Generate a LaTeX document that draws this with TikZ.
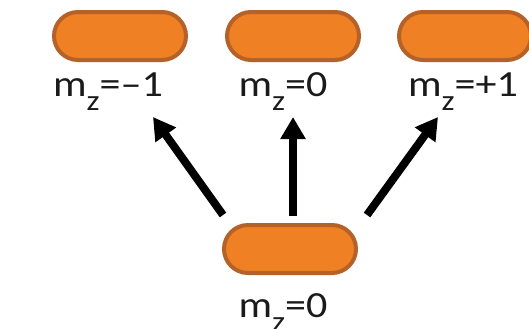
\documentclass[tikz,border=0pt]{standalone}
\usepackage{fontspec}
\setmainfont{Carlito}
\newfontfamily\lblfont[FakeStretch=1.14]{Carlito}
\usetikzlibrary{arrows.meta}
\definecolor{pillfill}{HTML}{F08024}
\definecolor{pillline}{HTML}{B5622A}
\definecolor{txt}{HTML}{1A1A1A}
\newcommand{\subz}{\raisebox{-14bp}{\fontsize{29}{29}\selectfont z}}
\begin{document}
\begin{tikzpicture}[x=1bp,y=-1bp,
  pill/.style={draw=pillline,fill=pillfill,line width=4bp,rounded corners=24bp,
    minimum width=132bp,minimum height=48bp,inner sep=0pt},
  lbl/.style={anchor=base,text=txt,font=\lblfont\fontsize{37}{40}\selectfont,inner sep=0pt},
  arr/.style={line width=8bp,-{Triangle[width=24bp,length=22bp]}}]
\useasboundingbox (0,0) rectangle (529,328);
\node[pill] (t1) at (120,36) {};
\node[pill] (t2) at (293,36) {};
\node[pill] (t3) at (465,36) {};
\node[pill] (b) at (290,249) {};
\node[lbl] (l1) at (108,96) {m\subz=–1};
\node[lbl] (l2) at (283,96) {m\subz=0};
\node[lbl] (l3) at (463,96) {m\subz=+1};
\node[lbl] (lb) at (283,317) {m\subz=0};
\coordinate (s1) at (223,215); \coordinate (e1) at (153,117);
\coordinate (s2) at (293,216); \coordinate (e2) at (293,117);
\coordinate (s3) at (367,215); \coordinate (e3) at (438,117);
\draw[arr] (s1) -- (e1);
\draw[arr] (s2) -- (e2);
\draw[arr] (s3) -- (e3);
\end{tikzpicture}
\end{document}
